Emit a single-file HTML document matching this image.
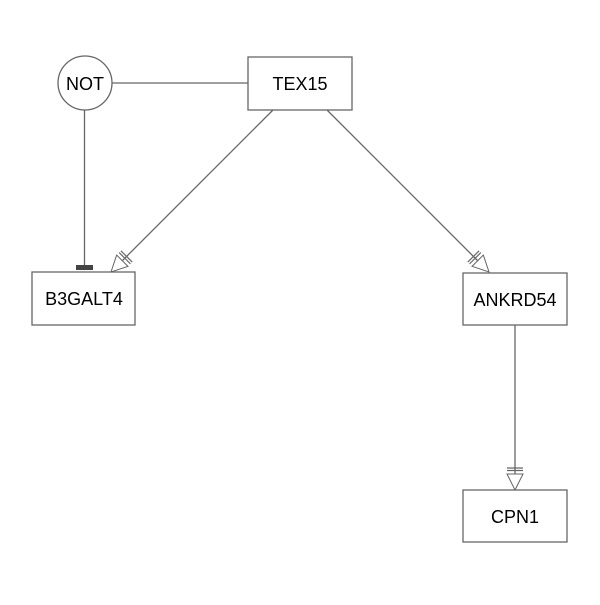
<!DOCTYPE html>
<html><head><style>body{margin:0;background:#fff}</style></head><body>
<svg width="600" height="600" xmlns="http://www.w3.org/2000/svg" font-family="Liberation Sans, Arial, sans-serif" font-size="18">
<rect width="600" height="600" fill="#fff"/>
<defs>
<marker id="a" markerWidth="34" markerHeight="24" refX="27" refY="12" orient="auto" markerUnits="userSpaceOnUse">
<path d="M11,12 L27,12" stroke="#fff" stroke-width="2"/>
<path d="M11,4 L27,12 L11,20 Z" fill="#fff" stroke="#666" stroke-width="1"/>
<path d="M5,4 L5,20 M7.5,4 L7.5,20" stroke="#666" stroke-width="1.2"/>
</marker>
</defs>
<g stroke="#666" stroke-width="1.3" fill="none">
<line x1="112" y1="83" x2="248" y2="83"/>
<line x1="84.5" y1="110" x2="84.5" y2="268"/>
<line x1="273" y1="110" x2="111" y2="272" marker-end="url(#a)"/>
<line x1="327" y1="110" x2="489" y2="272" marker-end="url(#a)"/>
<line x1="515" y1="325" x2="515" y2="490" marker-end="url(#a)"/>
</g>
<rect x="76" y="265" width="17" height="5" fill="#444"/>
<g fill="#fff" stroke="#666" stroke-width="1.3">
<circle cx="85" cy="83" r="27"/>
<rect x="248" y="57" width="104" height="53"/>
<rect x="32" y="272" width="103" height="53"/>
<rect x="463" y="273" width="104" height="52"/>
<rect x="463" y="490" width="104" height="52"/>
</g>
<g fill="#000" text-anchor="middle">
<text x="85" y="90">NOT</text>
<text x="300" y="90">TEX15</text>
<text x="84" y="305">B3GALT4</text>
<text x="515" y="306">ANKRD54</text>
<text x="515" y="523">CPN1</text>
</g>
</svg>
</body></html>
